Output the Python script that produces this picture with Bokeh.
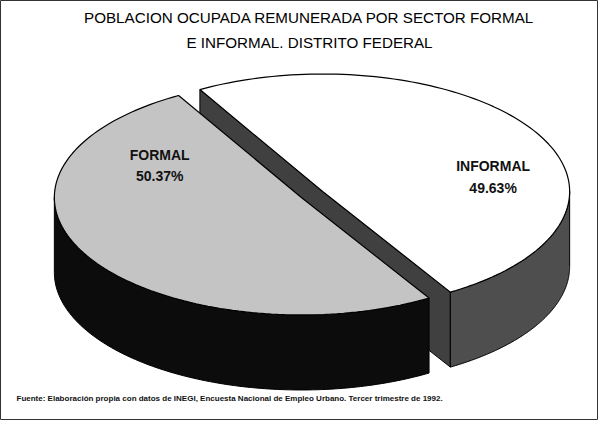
import numpy as np
from bokeh.plotting import figure
from bokeh.models import Range1d
from bokeh.embed import file_html
from bokeh.resources import INLINE
from bokeh.core.properties import value

# ---- data ----
categories = ["FORMAL", "INFORMAL"]
shares = [50.37, 49.63]
pct_labels = ["50.37%", "49.63%"]
title_lines = ["POBLACION OCUPADA REMUNERADA POR SECTOR FORMAL",
               "E INFORMAL. DISTRITO FEDERAL"]
source_note = ("Fuente: Elaboración propia con datos de INEGI, Encuesta Nacional "
               "de Empleo Urbano. Tercer trimestre de 1992.")

# ---- style / geometry (screen-like coordinates, y downward) ----
W, H = 598, 420
CX, CY = 311.5, 194.0      # pie centre
A, B = 247.0, 117.5        # ellipse semi-axes
DEPTH = 75.0
EXPLODE = 0.05
START = 119.8              # degrees, start of first slice
top_colors = ["#c4c4c4", "#ffffff"]
side_colors = ["#0c0c0c", "#4e4e4e"]
cut_colors = ["#2a2a2a", "#404040"]
label_angle = [154.6, 10.1]
label_rad = [0.635, 0.701]
FONT = "Liberation Sans"

p = figure(width=W, height=H, output_backend="svg", toolbar_location=None,
           x_range=Range1d(0, W), y_range=Range1d(H, 0), min_border=0)
p.axis.visible = False
p.xgrid.visible = False
p.ygrid.visible = False
p.outline_line_color = "#333333"
p.outline_line_width = 1
p.background_fill_color = "white"
p.border_fill_color = "white"


def pt(cx, cy, t_deg, r=1.0):
    t = np.radians(t_deg)
    return cx + r * A * np.cos(t), cy - r * B * np.sin(t)


def arc(cx, cy, t0, t1, n=120):
    ts = np.linspace(t0, t1, n)
    xs, ys = pt(cx, cy, ts)
    return list(xs), list(ys)


def front_parts(t0, t1):
    parts = []
    for lo, hi in [(180, 360), (540, 720)]:
        a, b = max(t0, lo), min(t1, hi)
        if b > a:
            parts.append((a, b))
    return parts


# slice angles
slices = []
acc = START
for i, s in enumerate(shares):
    span = s / 100.0 * 360.0
    t0, t1 = acc, acc + span
    acc = t1
    mid = (t0 + t1) / 2
    ox, oy = pt(0, 0, mid, EXPLODE)
    slices.append(dict(i=i, t0=t0, t1=t1, mid=mid, cx=CX + ox, cy=CY + oy))

# draw back-most slices first
order = sorted(slices, key=lambda d: -np.sin(np.radians(d["mid"])))
for s in order:
    i, t0, t1, cx, cy = s["i"], s["t0"], s["t1"], s["cx"], s["cy"]
    # visible cut faces, joined into one polygon (no seam at the centre)
    vis = [t for t, v in [(t1, np.cos(np.radians(t1)) < 0),
                          (t0, np.cos(np.radians(t0)) > 0)] if v]
    if vis:
        top_x, top_y = [], []
        for k, t in enumerate(vis):
            ex, ey = pt(cx, cy, t)
            if k == 0:
                top_x += [ex, cx]
                top_y += [ey, cy]
            else:
                top_x += [ex]
                top_y += [ey]
        if len(vis) == 1:
            pass
        bx = top_x[::-1]
        by = [y + DEPTH for y in top_y[::-1]]
        p.patch(top_x + bx, top_y + by, fill_color=cut_colors[i],
                line_color="black", line_width=1)
    # outer side
    for a, b in front_parts(t0, t1):
        xs, ys = arc(cx, cy, a, b)
        bx = xs[::-1]
        by = [y + DEPTH for y in ys[::-1]]
        p.patch(xs + bx, ys + by, fill_color=side_colors[i],
                line_color="black", line_width=1)
    # top face
    xs, ys = arc(cx, cy, t0, t1)
    p.patch([cx] + xs, [cy] + ys, fill_color=top_colors[i],
            line_color="black", line_width=1.2)

# slice labels
lx, ly1, ly2 = [], [], []
for s in slices:
    x, y = pt(s["cx"], s["cy"], label_angle[s["i"]], label_rad[s["i"]])
    lx.append(x)
    ly1.append(y - 10.75)
    ly2.append(y + 10.75)
p.text(x=lx, y=ly1, text=categories, text_align="center", text_baseline="middle",
       text_font=value(FONT), text_font_size="14px", text_font_style="bold",
       text_color="#111111")
p.text(x=lx, y=ly2, text=pct_labels, text_align="center", text_baseline="middle",
       text_font=value(FONT), text_font_size="14px", text_font_style="bold",
       text_color="#111111")

# title
p.text(x=[W / 2 + 10, W / 2 + 10], y=[17, 42], text=title_lines,
       text_align="center", text_baseline="middle", text_font=value(FONT),
       text_font_size="15.2px", text_color="#000000")

# source note
p.text(x=[16], y=[398], text=[source_note], text_align="left",
       text_baseline="middle", text_font=value(FONT), text_font_size="8px",
       text_font_style="bold", text_color="#111111")

open("out.html", "w").write(file_html(p, INLINE))
